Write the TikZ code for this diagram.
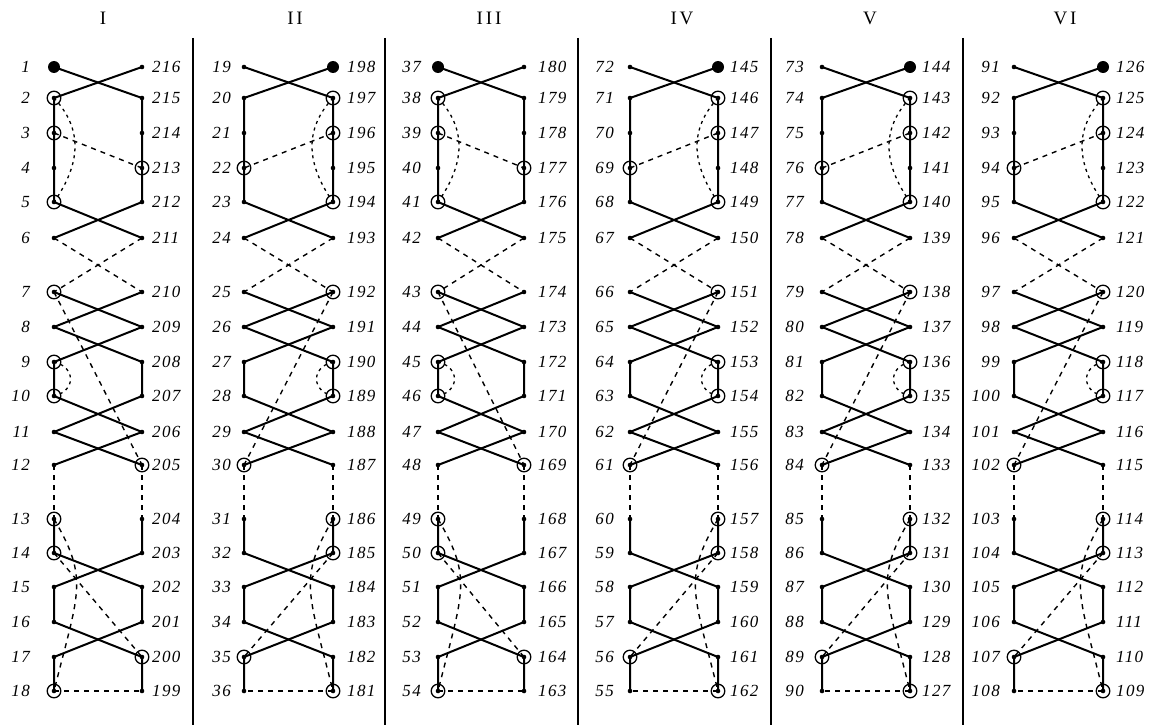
\documentclass[tikz,border=0pt]{standalone}
\usepackage{fontspec}
\setmainfont{Liberation Serif}
\newfontfamily\numfont[LetterSpace=8]{Liberation Serif}
\newfontfamily\hdrfont[LetterSpace=15]{Liberation Serif}
\def\rowlist{1/67,2/98,3/133,4/168,5/202,6/238,7/292,8/327,9/362,10/396,11/432,12/465,13/519,14/553,15/587,16/622,17/657,18/691}
\newcommand\mkcol[9]{%
  \foreach \r/\yy in \rowlist {
    \coordinate (#1L\r) at (#2,\yy);
    \coordinate (#1R\r) at (#3,\yy);
    \pgfmathtruncatemacro\nl{#4+#5*(\r-1)}
    \pgfmathtruncatemacro\nr{#6+#7*(\r-1)}
    \node[lab,anchor=east] (#1tL\r) at (#2-#8,\yy) {\nl};
    \node[lab,anchor=west] (#1tR\r) at (#3+#9,\yy) {\nr};
  }}
\newcommand\edges[4]{%
  \draw[sol] (#1#21) -- (#1#32) -- (#1#33) -- (#1#34) -- (#1#35) -- (#1#26);
  \draw[sol] (#1#31) -- (#1#22) -- (#1#23) -- (#1#24) -- (#1#25) -- (#1#36);
  \draw[dsh] (#1#26) -- (#1#37);
  \draw[dsh] (#1#36) -- (#1#27);
  \draw[sol] (#1#27) -- (#1#38) -- (#1#29) -- (#1#210) -- (#1#311) -- (#1#212);
  \draw[sol] (#1#37) -- (#1#28) -- (#1#39) -- (#1#310) -- (#1#211) -- (#1#312);
  \draw[dsh] (#1#212) -- (#1#213);
  \draw[dsh] (#1#312) -- (#1#313);
  \draw[sol] (#1#213) -- (#1#214) -- (#1#315) -- (#1#316) -- (#1#217) -- (#1#218);
  \draw[sol] (#1#313) -- (#1#314) -- (#1#215) -- (#1#216) -- (#1#317) -- (#1#318);
  \draw[dsh] (#1#218) -- (#1#318);
  % extras
  \draw[dot] (#1#22) .. controls +(28*#4,30) and +(28*#4,-40) .. (#1#25);
  \draw[dsh] (#1#23) -- (#1#34);
  \draw[dot] (#1#29) .. controls +(22*#4,5) and +(22*#4,-5) .. (#1#210);
  \draw[dsh] (#1#27) -- (#1#312);
  \draw[dsh] (#1#214) -- (#1#317);
  \draw[dsh] (#1#213) .. controls +(35*#4,60) and +(25*#4,-100) .. (#1#218);
  \foreach \r in {1,...,18} {\fill (#1L\r) circle (2.3); \fill (#1R\r) circle (2.3);}
  \fill (#1#21) circle (6);
  \foreach \p in {#22,#23,#25,#34,#27,#29,#210,#312,#213,#214,#317,#218} {\draw[ring] (#1\p) circle (6.8);}
}
\begin{document}
\begin{tikzpicture}[x=1pt,y=-1pt,
  sol/.style={line width=2pt,line cap=round,line join=round},
  dsh/.style={line width=1.4pt,dash pattern=on 5pt off 5pt},
  dot/.style={line width=1.3pt,dash pattern=on 3pt off 4pt},
  ring/.style={line width=1.3pt},
  sep/.style={line width=2pt},
  lab/.style={inner sep=0pt,font=\numfont\itshape\fontsize{17}{17}\selectfont},
  hdr/.style={inner sep=0pt,font=\hdrfont\fontsize{19}{19}\selectfont}]
\useasboundingbox (0,0) rectangle (1169,725);
\fill[white] (0,0) rectangle (1169,725);
\node[hdr] (h1) at (103,18) {I};
\node[hdr] (h2) at (295,18) {II};
\node[hdr] (h3) at (489,18) {III};
\node[hdr] (h4) at (682,18) {IV};
\node[hdr] (h5) at (870,18) {V};
\node[hdr] (h6) at (1065,18) {VI};
\foreach \xx/\nm in {193/s1,385/s2,578/s3,771/s4,963/s5} {
  \coordinate (\nm a) at (\xx,38); \coordinate (\nm b) at (\xx,725);
  \draw[sep] (\nm a) -- (\nm b);}
\mkcol{a}{54}{142}{1}{1}{216}{-1}{24}{10}
\mkcol{b}{244}{333}{19}{1}{198}{-1}{13}{14}
\mkcol{c}{438}{524}{37}{1}{180}{-1}{17}{14}
\mkcol{d}{630}{718}{72}{-1}{145}{1}{16}{12}
\mkcol{e}{822}{910}{73}{1}{144}{-1}{18}{12}
\mkcol{f}{1014}{1103}{91}{1}{126}{-1}{14}{13}
\edges{a}{L}{R}{1}
\edges{b}{R}{L}{-1}
\edges{c}{L}{R}{1}
\edges{d}{R}{L}{-1}
\edges{e}{R}{L}{-1}
\edges{f}{R}{L}{-1}
\end{tikzpicture}
\end{document}
